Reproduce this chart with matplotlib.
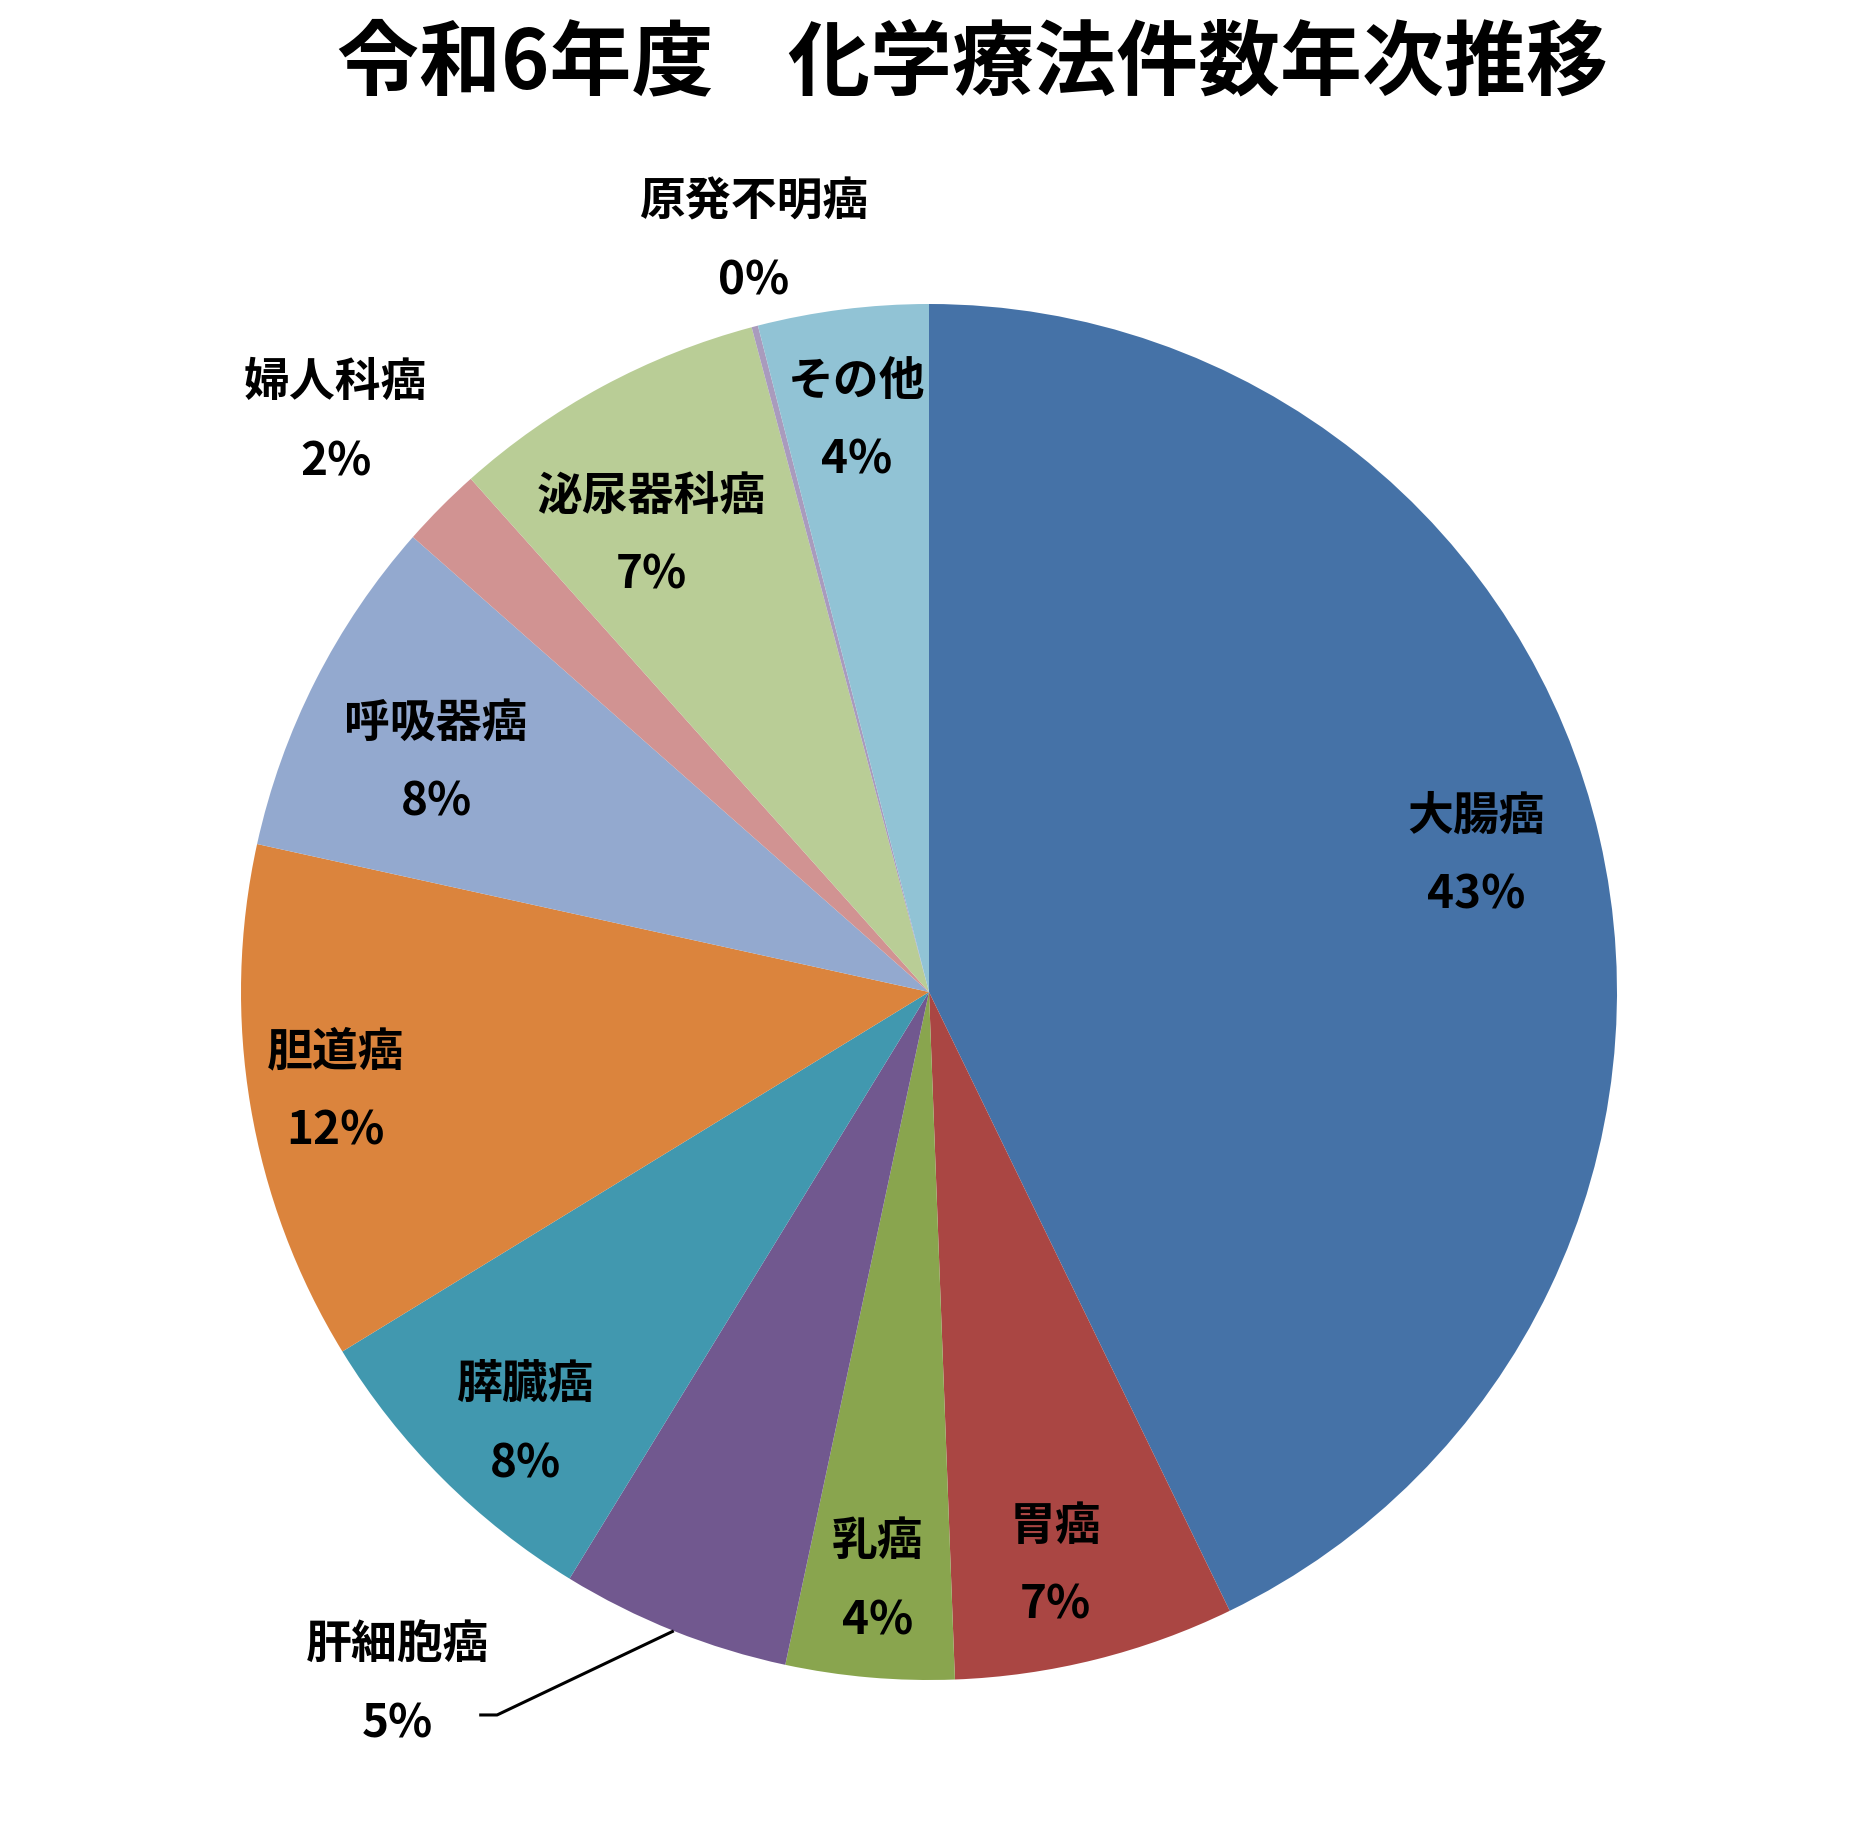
import numpy as np
import matplotlib
matplotlib.use("Agg")
import matplotlib.pyplot as plt

plt.rcParams['font.family'] = ['Noto Sans CJK JP', 'DejaVu Sans']

title = "令和6年度    化学療法件数年次推移"
categories = ["大腸癌", "胃癌", "乳癌", "肝細胞癌", "膵臓癌", "胆道癌",
              "呼吸器癌", "婦人科癌", "泌尿器科癌", "原発不明癌", "その他"]
values = [42.8, 6.6, 3.95, 5.4, 7.5, 12.2, 8.05, 1.9, 7.45, 0.15, 4.0]
colors = ["#4572A7", "#AA4643", "#89A54E", "#71588F", "#4198AF", "#DB843D",
          "#93A9CF", "#D19392", "#B9CD96", "#A99BBD", "#91C3D5"]

# label layout (radius as fraction of pie radius, clockwise angle offset in deg)
label_r = [0.82, 0.855, 0.86, 1.27, 0.86, 0.875, 0.79, 1.195, 0.776, 1.12, 0.836]
label_off = [-1, 1.6, 0, 15.7, -2, 0, -2, -1, -3, 1.5, 0]
leader = [False, False, False, True, False, False, False, False, False, False, False]

W, H = 1860, 1836
fig = plt.figure(figsize=(W / 100, H / 100), dpi=100)
ax = fig.add_axes([0, 0, 1, 1])
cx, cy, R = 929, 992, 688

wedges, _ = ax.pie(values, colors=colors, startangle=90, counterclock=False,
                   radius=1.0, wedgeprops=dict(linewidth=0))
ax.set_aspect('auto')
ax.set_xlim(-cx / R, (W - cx) / R)
ax.set_ylim(-(H - cy) / R, cy / R)
ax.axis('off')

total = sum(values)
line_gap = 0.0575
for w, name, v, r, off, ld in zip(wedges, categories, values, label_r, label_off, leader):
    mid = np.deg2rad((w.theta1 + w.theta2) / 2)
    ang = mid - np.deg2rad(off)
    x, y = r * np.cos(ang), r * np.sin(ang)
    pct = f"{v / total * 100:.0f}%"
    ax.text(x, y + line_gap, name, ha='center', va='center', fontsize=33,
            fontweight='bold', color='black')
    ax.text(x, y - line_gap, pct, ha='center', va='center', fontsize=33,
            fontweight='bold', color='black')
    if ld:
        ex, ey = np.cos(mid), np.sin(mid)
        kx, ky = x + 0.145, y - 0.043
        ax.plot([ex, kx, kx - 0.026], [ey, ky, ky], color='black', lw=2.2,
                solid_capstyle='butt')

fig.text(0.523, 0.965, title, ha='center', va='center', fontsize=59,
         fontweight='bold', color='black')

fig.savefig("out.png", dpi=100, facecolor='white')
